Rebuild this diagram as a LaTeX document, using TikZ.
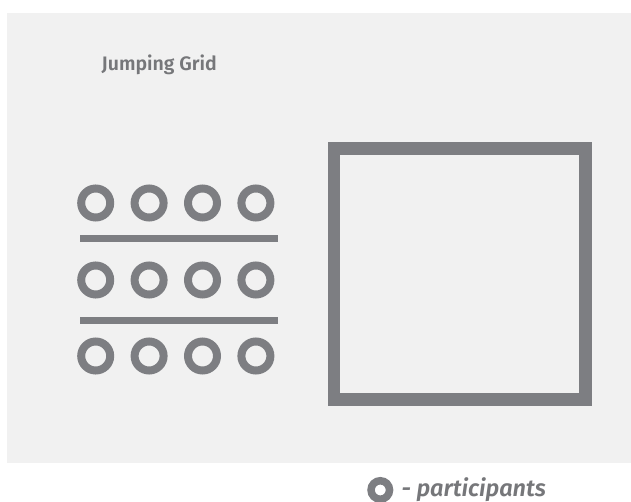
\documentclass[tikz,border=0pt]{standalone}
\usepackage{fontspec}
\setmainfont{Fira Sans}[BoldFont={Fira Sans SemiBold},BoldItalicFont={Fira Sans SemiBold Italic}]
\definecolor{ringgray}{HTML}{7D7E82}
\definecolor{paper}{HTML}{F1F1F1}
\definecolor{ink}{HTML}{76777A}
\tikzset{
  spot/.style={inner sep=0pt,minimum size=0pt},
  ringline/.style={draw=ringgray,line width=8pt},
  bar/.style={draw=ringgray,line width=6.7pt},
}
\begin{document}
\begin{tikzpicture}[x=1pt,y=-1pt]
  \useasboundingbox (0,0) rectangle (631,502);
  \fill[paper] (7,13) rectangle (631,463);
  \node[anchor=base west,text=ink,inner sep=0pt,font=\fontsize{19.5}{22}\selectfont\bfseries] (title) at (101.5,71) {Jumping Grid};
  % participants, three rows of four
  \foreach \r/\y in {1/203,2/280,3/356}{
    \foreach \c in {1,...,4}{
      \node[spot] (p-\r-\c) at ({95.7+53.4*(\c-1)},\y) {};
      \draw[ringline] (p-\r-\c) circle (14.5);
    }
  }
  \draw[bar] (80,238.3) -- (278,238.3);
  \draw[bar] (80,320.3) -- (278,320.3);
  % the grid to jump into
  \draw[ringgray,line width=12.5pt] (334,148.7) rectangle (585.3,399.7);
  % legend
  \node[spot] (key) at (380.3,490) {};
  \draw[ringline,line width=7.5pt] (key) circle (9.25);
  \node[anchor=base west,text=ink,inner sep=0pt,font=\fontsize{23.5}{26}\selectfont\bfseries\itshape] (keytext) at (401.5,496.7) {- participants};
\end{tikzpicture}
\end{document}
